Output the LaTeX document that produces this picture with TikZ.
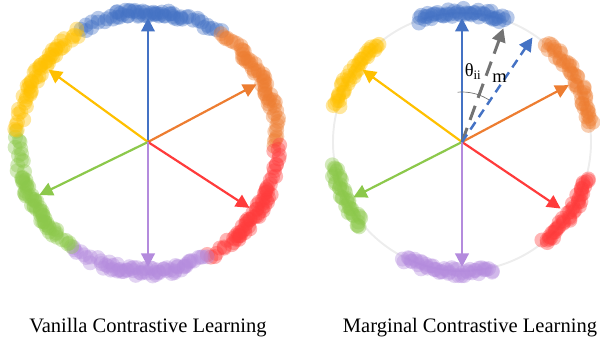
\documentclass[tikz,border=0pt]{standalone}
\usepackage{fontspec}
\setmainfont{Liberation Serif}
\usetikzlibrary{arrows.meta}

\definecolor{cblue}{HTML}{4472C4}
\definecolor{corange}{HTML}{ED7D31}
\definecolor{cyellow}{HTML}{FFC000}
\definecolor{cgreen}{HTML}{8CC84B}
\definecolor{cred}{HTML}{FF3B3B}
\definecolor{cpurple}{HTML}{B48BDD}
\definecolor{cgray}{HTML}{737373}

\tikzset{
	vec/.style={line width=1.25pt, -{Triangle[length=0.27cm, width=0.27cm]}},
	caption/.style={anchor=base, font=\fontsize{11.7}{14}\selectfont},
	angletext/.style={font=\fontsize{10.5}{12}\selectfont, inner sep=0pt},
}

% dots spread along a circle: centre, colour, from angle, to angle, count
\newcommand{\dotband}[5]{%
	\foreach \k in {1,...,#5}{
		\pgfmathsetmacro{\ang}{#3+(#4-#3)*(\k-rnd)/#5}
		\pgfmathsetmacro{\rad}{130+8*(rnd-0.5)}
		\fill[#2, fill opacity=0.38] ([shift={(\ang:\rad)}]#1) circle (7.5);
	}}

\begin{document}
\begin{tikzpicture}[x=0.02cm, y=0.02cm]
	\useasboundingbox (0,0) rectangle (600,341);
	\pgfmathsetseed{11}
	
	\coordinate (vc) at (148,199);
	\coordinate (mc) at (462,199);
	
	% vanilla
	\dotband{vc}{cblue}{56}{121}{44}
	\dotband{vc}{cblue}{75}{105}{22}
	\dotband{vc}{corange}{-2}{57}{42}
	\dotband{vc}{corange}{15}{45}{18}
	\dotband{vc}{cred}{-63}{-1}{42}
	\dotband{vc}{cred}{-50}{-20}{28}
	\dotband{vc}{cpurple}{234}{298}{44}
	\dotband{vc}{cpurple}{250}{290}{26}
	\dotband{vc}{cgreen}{175}{235}{40}
	\dotband{vc}{cgreen}{195}{225}{28}
	\dotband{vc}{cyellow}{121}{176}{38}
	\dotband{vc}{cyellow}{130}{160}{18}
	
	\coordinate (vblue) at ([shift={(90:124)}]vc);
	\coordinate (vorange) at ([shift={(28:123)}]vc);
	\coordinate (vyellow) at ([shift={(144:123)}]vc);
	\coordinate (vgreen) at ([shift={(206:121)}]vc);
	\coordinate (vred) at ([shift={(-33:121)}]vc);
	\coordinate (vpurple) at ([shift={(270:125)}]vc);
	
	\draw[vec, cblue] (vc) -- (vblue);
	\draw[vec, corange] (vc) -- (vorange);
	\draw[vec, cyellow] (vc) -- (vyellow);
	\draw[vec, cgreen] (vc) -- (vgreen);
	\draw[vec, cred] (vc) -- (vred);
	\draw[vec, cpurple] (vc) -- (vpurple);
	
	% marginal
	\draw[line width=1.1pt, black!7] (mc) circle (129);
	\dotband{mc}{cblue}{70}{110}{50}
	\dotband{mc}{corange}{7}{50}{48}
	\dotband{mc}{cred}{-51}{-16}{46}
	\dotband{mc}{cpurple}{243}{284}{50}
	\dotband{mc}{cgreen}{190}{220}{40}
	\dotband{mc}{cyellow}{130}{165}{40}
	
	\coordinate (mblue) at ([shift={(90:124)}]mc);
	\coordinate (morange) at ([shift={(28:121)}]mc);
	\coordinate (myellow) at ([shift={(144:123)}]mc);
	\coordinate (mgreen) at ([shift={(207:122)}]mc);
	\coordinate (mred) at ([shift={(-34:119)}]mc);
	\coordinate (mpurple) at ([shift={(270:125)}]mc);
	\coordinate (mgray) at ([shift={(70:121)}]mc);
	\coordinate (mdash) at ([shift={(56:126)}]mc);
	
	\draw[vec, cblue] (mc) -- (mblue);
	\draw[vec, corange] (mc) -- (morange);
	\draw[vec, cyellow] (mc) -- (myellow);
	\draw[vec, cgreen] (mc) -- (mgreen);
	\draw[vec, cred] (mc) -- (mred);
	\draw[vec, cpurple] (mc) -- (mpurple);
	
	\draw[cgray, thin] ([shift={(95:50)}]mc) arc[start angle=95, end angle=55, radius=50];
	\draw[vec, cgray, line width=1.7pt, dash pattern=on 0.3cm off 0.17cm] (mc) -- (mgray);
	\draw[vec, cblue, line width=1.4pt, dash pattern=on 0.18cm off 0.12cm] (mc) -- (mdash);
	
	\node[angletext, anchor=base east] (theta) at (482,264) {θ\textsubscript{ii}};
	\node[angletext, anchor=base west] (marg) at (492,258) {m};
	
	\node[caption] (vtitle) at (148,8) {Vanilla Contrastive Learning};
	\node[caption] (mtitle) at (470,8) {Marginal Contrastive Learning};
\end{tikzpicture}
\end{document}
